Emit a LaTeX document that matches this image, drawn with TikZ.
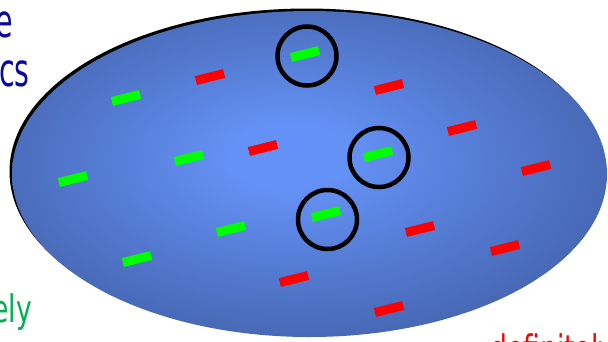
\documentclass[tikz,border=0pt]{standalone}
\usepackage{fontspec}
\setmainfont{DejaVu Sans}
\definecolor{edgeblue}{RGB}{60,88,155}
\definecolor{innerblue}{RGB}{100,145,245}
\definecolor{textblue}{RGB}{10,10,160}
\definecolor{textgreen}{RGB}{0,176,80}
\definecolor{dashgreen}{RGB}{0,255,0}
\definecolor{dashred}{RGB}{255,0,0}
\pgfdeclareradialshading{bgshade}{\pgfpoint{-2bp}{3bp}}{color(0bp)=(innerblue); color(5bp)=(innerblue); color(35bp)=(edgeblue); color(50bp)=(edgeblue)}
\tikzset{
  gdash/.style={rectangle, fill=dashgreen, minimum width=29pt, minimum height=9pt, inner sep=0pt, rotate=14},
  rdash/.style={rectangle, fill=dashred, minimum width=29pt, minimum height=9pt, inner sep=0pt, rotate=14},
  ring/.style={circle, draw=black, line width=4.5pt, minimum size=59pt, inner sep=0pt},
  bigl/.style={inner sep=0pt, xscale=0.62, font=\fontsize{46}{50}\selectfont},
  midl/.style={inner sep=0pt, xscale=0.7, font=\fontsize{38}{44}\selectfont}
}
\begin{document}
\begin{tikzpicture}[x=1pt,y=-1pt]
\useasboundingbox (0,0) rectangle (608,341);
% shadow and ellipse
\fill[black] (307,171.5) ellipse [x radius=297.5, y radius=163];
\shade[shading=bgshade] (309.5,174) ellipse [x radius=297.5, y radius=163];
% green dashes
\node[gdash] (g1) at (305,54) {};
\node[gdash] (g2) at (126,98) {};
\node[gdash] (g3) at (189,158) {};
\node[gdash] (g4) at (73,179) {};
\node[gdash] (g5) at (378,154) {};
\node[gdash] (g6) at (231,229) {};
\node[gdash] (g7) at (326,214) {};
\node[gdash] (g8) at (137,259) {};
% red dashes
\node[rdash] (r1) at (210,77) {};
\node[rdash] (r2) at (389,87) {};
\node[rdash] (r3) at (462,128) {};
\node[rdash] (r4) at (263,148) {};
\node[rdash] (r5) at (536,168) {};
\node[rdash] (r6) at (420,229) {};
\node[rdash] (r7) at (505,248) {};
\node[rdash] (r8) at (294,279) {};
\node[rdash] (r9) at (389,309) {};
% circles
\node[ring] (c1) at (307,56) {};
\node[ring] (c2) at (379,157.5) {};
\node[ring] (c3) at (327.5,219.5) {};
% partial texts
\node[bigl, text=textblue, anchor=base east] (t1) at (13,37) {e};
\node[bigl, text=textblue, anchor=base west] (t2) at (-1,86) {cs};
\node[midl, text=textgreen, anchor=base east] (t3) at (32,322) {ely};
\node[midl, text=dashred, anchor=base west] (t4) at (490,362) {definitely};
\end{tikzpicture}
\end{document}
